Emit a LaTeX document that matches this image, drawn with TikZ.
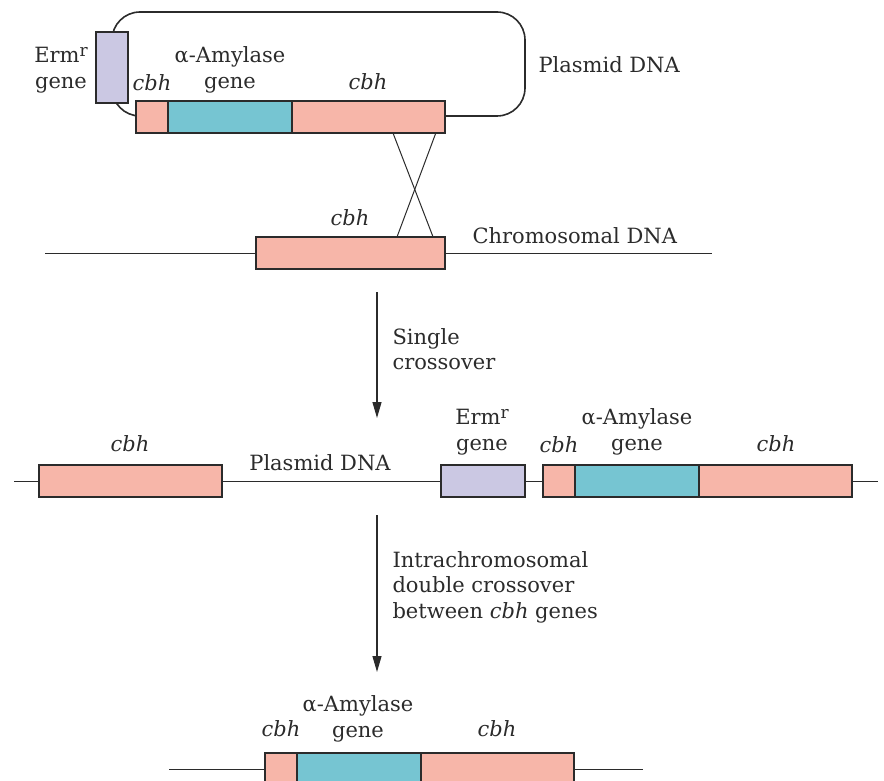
\documentclass[tikz,border=0pt]{standalone}
\usepackage{fontspec}
\setmainfont{DejaVu Serif}
\usetikzlibrary{arrows.meta, positioning, calc}
\definecolor{cpink}{HTML}{F7B6A9}
\definecolor{cteal}{HTML}{76C5D2}
\definecolor{clilac}{HTML}{CBC8E3}
\definecolor{cline}{HTML}{2B2B2B}
\newcommand{\ermr}{Erm\raisebox{0.3em}{\fontsize{8.5}{8.5}\selectfont r}}
\tikzset{
  every picture/.style={line width=0.5pt},
  gene/.style={draw=cline, fill=#1, line width=0.75pt, inner sep=0pt, outer sep=0pt, minimum height=16pt, anchor=west},
  gene/.default=cpink,
  arrow/.style={-{Triangle[length=8pt, width=4.5pt]}, draw=cline, line width=0.6pt},
  lbl/.style={font=\rmfamily\fontsize{10.5}{12.8}\selectfont, align=center, inner sep=0pt, text=cline},
  glabel/.style={lbl, font=\rmfamily\itshape\fontsize{10.5}{12.8}\selectfont},
}

\begin{document}
\begin{tikzpicture}[x=0.5pt, y=-0.5pt]
  \useasboundingbox (0,0) rectangle (884,781);
  % ---------- plasmid
  \draw[cline, line width=0.8pt, rounded corners=14pt] (112,12) rectangle (525,116);
  \node[gene=clilac, anchor=north west, minimum width=16pt, minimum height=35.5pt] (erm1) at (96,32) {};
  \node[gene, minimum width=16pt] (c1a) at (136,117) {};
  \node[gene=cteal, minimum width=62pt] (amy1) at (c1a.east) {};
  \node[gene, minimum width=76.5pt] (c1b) at (amy1.east) {};
  \node[lbl] (ermlab1) at (61,70) {\ermr\\gene};
  \node[lbl] (amylab1) at (230,70) {α-Amylase\\gene};
  \node[glabel] (cbhlab1) at (152,83) {cbh};
  \node[glabel] (cbhlab2) at (368,82) {cbh};
  \node[lbl, anchor=west] (plaslab1) at (538,65) {Plasmid DNA};
  % ---------- chromosome
  \coordinate (chl) at (45,253);
  \coordinate (chr) at (712,253);
  \node[gene, minimum width=94.5pt] (c2) at (256,253) {};
  \draw[cline] (chl) -- (c2.west);
  \draw[cline] (c2.east) -- (chr);
  \node[glabel] (cbhlab3) at (350,218) {cbh};
  \node[lbl, anchor=west] (chromlab) at (472,236) {Chromosomal DNA};
  % crossover
  \draw[cline] ($(c1b.south west)!0.66!(c1b.south east)$) -- ($(c2.north west)!0.937!(c2.north east)$);
  \draw[cline] ($(c1b.south west)!0.94!(c1b.south east)$) -- ($(c2.north west)!0.746!(c2.north east)$);
  % ---------- single crossover
  \coordinate (a1s) at (377,292);
  \coordinate (a1e) at (377,418);
  \draw[arrow] (a1s) -- (a1e);
  \node[lbl, anchor=west, align=left] (a1lab) at (392,349) {Single\\crossover};
  % ---------- integrated
  \coordinate (l2) at (14,481);
  \coordinate (r2) at (878,481);
  \node[gene, minimum width=91.5pt] (c3a) at (39,481) {};
  \node[gene=clilac, minimum width=42pt] (erm2) at (441,481) {};
  \node[gene, minimum width=16pt] (c3b) at (543,481) {};
  \node[gene=cteal, minimum width=62pt] (amy2) at (c3b.east) {};
  \node[gene, minimum width=76.5pt] (c3c) at (amy2.east) {};
  \draw[cline] (l2) -- (c3a.west);
  \draw[cline] (c3a.east) -- (erm2.west);
  \draw[cline] (erm2.east) -- (c3b.west);
  \draw[cline] (c3c.east) -- (r2);
  \node[glabel] (cbhlab4) at (130,444) {cbh};
  \node[lbl] (plaslab2) at (320,463) {Plasmid DNA};
  \node[lbl] (ermlab2) at (482,432) {\ermr\\gene};
  \node[glabel] (cbhlab5) at (559,445) {cbh};
  \node[lbl] (amylab2) at (637,432) {α-Amylase\\gene};
  \node[glabel] (cbhlab6) at (776,444) {cbh};
  % ---------- double crossover
  \coordinate (a2s) at (377,515);
  \coordinate (a2e) at (377,672);
  \draw[arrow] (a2s) -- (a2e);
  \node[lbl, anchor=west, align=left] (a2lab) at (392,587) {Intrachromosomal\\double crossover\\between \textit{cbh} genes};
  % ---------- result
  \coordinate (l3) at (169,769);
  \coordinate (r3) at (643,769);
  \node[gene, minimum width=16pt] (c4a) at (265,769) {};
  \node[gene=cteal, minimum width=62pt] (amy3) at (c4a.east) {};
  \node[gene, minimum width=76.5pt] (c4b) at (amy3.east) {};
  \draw[cline] (l3) -- (c4a.west);
  \draw[cline] (c4b.east) -- (r3);
  \node[glabel] (cbhlab7) at (281,729) {cbh};
  \node[lbl] (amylab3) at (358,719) {α-Amylase\\gene};
  \node[glabel] (cbhlab8) at (497,729) {cbh};
\end{tikzpicture}
\end{document}
